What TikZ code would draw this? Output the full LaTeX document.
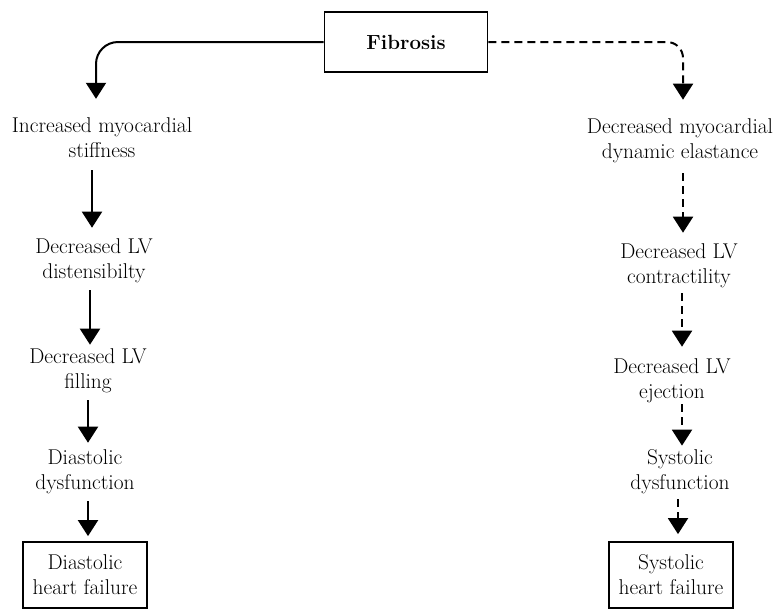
\documentclass[tikz,border=0pt]{standalone}
\usetikzlibrary{arrows.meta}
\begin{document}
\begin{tikzpicture}[x=1pt,y=-1pt,
  txt/.style={font=\fontsize{21.4}{25}\selectfont, align=center, inner sep=0pt},
  boxn/.style={txt, draw, line width=1.8pt, minimum width=124pt, minimum height=66pt},
  sarr/.style={line width=2pt, -{Triangle[width=20pt,length=16pt]}},
  darr/.style={sarr, dash pattern=on 8pt off 5pt}]
\useasboundingbox (0,0) rectangle (776,611);
% column coordinates
\coordinate (L0) at (96,0);
\coordinate (L1) at (92,0);
\coordinate (L2) at (90,0);
\coordinate (L3) at (88,0);
\coordinate (L4) at (88,0);
\coordinate (R0) at (683,0);
\coordinate (R1) at (683,0);
\coordinate (R2) at (682,0);
\coordinate (R3) at (682,0);
\coordinate (R4) at (678,0);
% nodes
\node[txt, draw, line width=1.8pt, minimum width=163pt, minimum height=60pt, font=\fontsize{20.5}{25}\selectfont\bfseries] (fib) at (406,42) {Fibrosis};
\node[txt] (inc) at (102,138) {Increased myocardial\\stiffness};
\node[txt] (dis) at (94,261) {Decreased LV\\distensibilty};
\node[txt] (fil) at (88,371) {Decreased LV\\filling};
\node[txt] (dia) at (85,472) {Diastolic\\dysfunction};
\node[boxn] (dhf) at (85,575) {Diastolic\\heart failure};
\node[txt] (dec) at (680,141) {Decreased myocardial\\dynamic elastance};
\node[txt] (con) at (679,266) {Decreased LV\\contractility};
\node[txt] (eje) at (672,381) {Decreased LV\\ejection};
\node[txt] (sys) at (680,472) {Systolic\\dysfunction};
\node[boxn] (shf) at (671,575) {Systolic\\heart failure};
% left chain
\draw[sarr, rounded corners=22pt, shorten >=19pt] (fib.west) -| (inc.north -| L0);
\draw[sarr, shorten <=12pt, shorten >=11pt] (inc.south -| L1) -- (dis.north -| L1);
\draw[sarr, shorten <=7pt, shorten >=4pt] (dis.south -| L2) -- (fil.north -| L2);
\draw[sarr, shorten <=7pt, shorten >=7pt] (fil.south -| L3) -- (dia.north -| L3);
\draw[sarr, shorten <=7pt, shorten >=5pt] (dia.south -| L4) -- (dhf.north -| L4);
% right chain
\draw[darr, rounded corners=16pt, shorten >=19pt] (fib.east) -| (dec.north -| R0);
\draw[darr, shorten <=10pt, shorten >=11pt] (dec.south -| R1) -- (con.north -| R1);
\draw[darr, shorten <=5pt, shorten >=12pt] (con.south -| R2) -- (eje.north -| R2);
\draw[darr, shorten <=1pt, shorten >=4pt] (eje.south -| R3) -- (sys.north -| R3);
\draw[darr, shorten <=5pt, shorten >=7pt] (sys.south -| R4) -- (shf.north -| R4);
\end{tikzpicture}
\end{document}
